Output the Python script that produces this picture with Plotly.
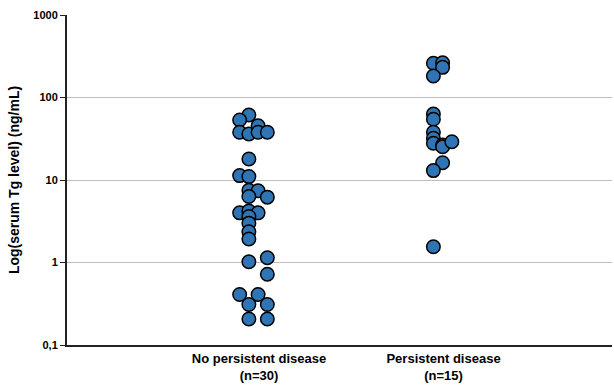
import plotly.graph_objects as go

# Data (values in ng/mL); "cols" = beeswarm column index of each dot
categories = ["No persistent disease<br>(n=30)", "Persistent disease<br>(n=15)"]

no_persistent = [61.4, 53.4, 37.9, 36.1, 45.5, 37.9, 37.9, 18.0, 11.3, 11.0,
                 7.5, 7.4, 6.2, 6.3, 4.0, 4.2, 4.0, 3.6, 3.0, 2.36,
                 1.93, 1.02, 1.14, 0.72, 0.41, 0.41, 0.31, 0.31, 0.207, 0.207]
no_persistent_cols = [0, -1, -1, 0, 1, 1, 2, 0, -1, 0,
                      0, 1, 2, 0, -1, 0, 1, 0, 0, 0,
                      0, 0, 2, 2, -1, 1, 0, 2, 0, 2]

persistent = [260, 264, 232, 182, 63, 54.4, 37.9, 32, 27.9, 26.5, 25.3, 29.1, 16.2, 13.0, 1.55]
persistent_cols = [0, 1, 1, 0, 0, 0, 0, 0, 0, 1, 1, 2, 1, 0, 0]

y_tickvals = [0.1, 1, 10, 100, 1000]
y_ticktext = ["0,1", "1", "10", "100", "1000"]

# styling
base_shift = -0.055
col_step = 0.05
marker = dict(size=13.5, color="#2F75B5", line=dict(color="black", width=1.5))

fig = go.Figure()
for cat_pos, vals, cols in [(1, no_persistent, no_persistent_cols), (2, persistent, persistent_cols)]:
    xs = [cat_pos + base_shift + c * col_step for c in cols]
    fig.add_trace(go.Scatter(x=xs, y=vals, mode="markers", marker=marker,
                             showlegend=False, hoverinfo="y"))

font_family = "Arial, Liberation Sans, sans-serif"
fig.update_layout(
    template="none",
    width=614, height=386,
    margin=dict(l=67, r=2, t=15, b=41, pad=0),
    paper_bgcolor="white", plot_bgcolor="white",
    font=dict(family=font_family, color="black"),
    xaxis=dict(
        automargin=False,
        range=[-0.0407, 2.913],
        tickvals=[1, 2],
        ticktext=["<b>" + c + "</b>" for c in categories],
        tickfont=dict(size=13),
        showgrid=False, zeroline=False,
        showline=True, linecolor="#222", linewidth=2,
        ticks="", ticklen=0,
    ),
    yaxis=dict(
        automargin=False,
        type="log", range=[-1, 3],
        tickvals=y_tickvals,
        ticktext=["<b>" + t + "</b>" for t in y_ticktext],
        tickfont=dict(size=11),
        showgrid=True, gridcolor="#BDBDBD", gridwidth=1,
        zeroline=False,
        showline=True, linecolor="#222", linewidth=2,
        ticks="outside", ticklen=5, tickcolor="#222", tickwidth=1,
        title=dict(text="<b>Log(serum Tg level) (ng/mL)</b>", font=dict(size=14), standoff=10),
    ),
)

fig.write_html("out.html", config={"displayModeBar": False},
               post_script="document.body.style.margin='0';")
